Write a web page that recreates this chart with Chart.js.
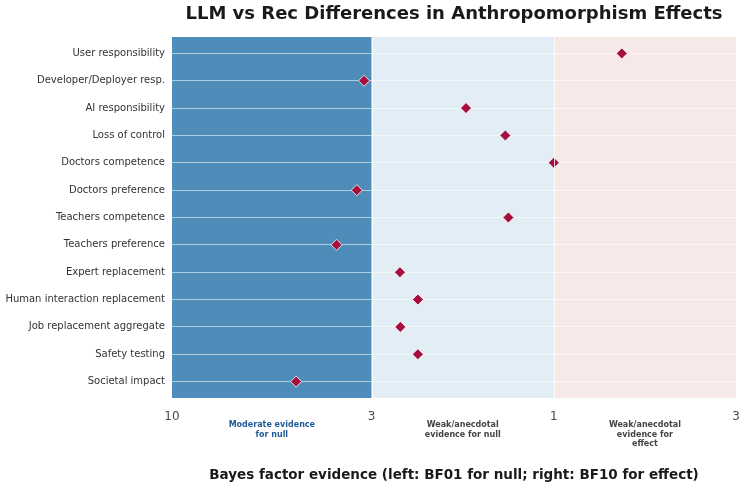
<!DOCTYPE html>
<html>
<head>
<meta charset="utf-8">
<script src="https://cdn.jsdelivr.net/npm/chart.js@4"></script>
<style>
  body { margin: 0; background: #fff; }
  #wrap { width: 747px; height: 489px; }
</style>
</head>
<body>
<div id="wrap"><canvas id="myChart"></canvas></div>
<script>
// categories top to bottom
var categories = ['User responsibility', 'Developer/Deployer resp.', 'AI responsibility', 'Loss of control',
  'Doctors competence', 'Doctors preference', 'Teachers competence', 'Teachers preference',
  'Expert replacement', 'Human interaction replacement', 'Job replacement aggregate',
  'Safety testing', 'Societal impact'];
// log10(BF10), negative = evidence for null
var logBF10 = [0.178, -0.497, -0.230, -0.127, 0.0, -0.516, -0.119, -0.569, -0.403, -0.356, -0.402, -0.356, -0.675];
// x ticks
var tickValues = [-1, Math.log10(1 / 3), 0, Math.log10(3)];
var tickLabels = ['10', '3', '1', '3'];
// evidence zones
var zoneEdges = [-1, Math.log10(1 / 3), 0, Math.log10(3)];
var zoneColors = ['#4e8db9', '#e3edf6', '#f6e9e8'];
var zoneNames = [['Moderate evidence', 'for null'], ['Weak/anecdotal', 'evidence for null'], ['Weak/anecdotal', 'evidence for', 'effect']];
var zoneTextColors = ['#1f5b97', '#444444', '#444444'];

var points = logBF10.map(function (v, i) { return { x: v, y: i }; });

var zonesPlugin = {
  id: 'zones',
  beforeDraw: function (chart) {
    var c = chart.ctx, a = chart.chartArea, xs = chart.scales.x;
    c.save();
    for (var i = 0; i < zoneColors.length; i++) {
      var x0 = xs.getPixelForValue(zoneEdges[i]);
      var x1 = xs.getPixelForValue(zoneEdges[i + 1]);
      c.fillStyle = zoneColors[i];
      c.fillRect(x0, a.top, x1 - x0, a.bottom - a.top);
    }
    c.restore();
  },
  afterDraw: function (chart) {
    var c = chart.ctx, a = chart.chartArea, xs = chart.scales.x;
    c.save();
    // white vertical lines at zone edges
    c.strokeStyle = 'rgba(255,255,255,0.8)';
    c.lineWidth = 1;
    [1, 2].forEach(function (k) {
      var x = Math.round(xs.getPixelForValue(zoneEdges[k])) + 0.5;
      c.beginPath(); c.moveTo(x, a.top); c.lineTo(x, a.bottom); c.stroke();
    });
    // zone labels
    c.font = 'bold 8px "DejaVu Sans"';
    c.textAlign = 'center';
    c.textBaseline = 'middle';
    for (var i = 0; i < zoneNames.length; i++) {
      var cx = (xs.getPixelForValue(zoneEdges[i]) + xs.getPixelForValue(zoneEdges[i + 1])) / 2;
      c.fillStyle = zoneTextColors[i];
      zoneNames[i].forEach(function (line, j) {
        c.fillText(line, cx, 425 + j * 9.5);
      });
    }
    // title + x axis title centred on plot area
    var mid = (a.left + a.right) / 2;
    c.fillStyle = '#1a1a1a';
    c.font = 'bold 18px "DejaVu Sans"';
    c.fillText('LLM vs Rec Differences in Anthropomorphism Effects', mid, 14);
    c.font = 'bold 13.5px "DejaVu Sans"';
    c.fillText('Bayes factor evidence (left: BF01 for null; right: BF10 for effect)', mid, 475);
    c.restore();
  }
};

var ctx = document.getElementById('myChart').getContext('2d');
var myChart = new Chart(ctx, {
  type: 'scatter',
  data: {
    datasets: [{
      data: points,
      pointStyle: 'rectRot',
      pointRadius: 5.5,
      pointHoverRadius: 5.5,
      backgroundColor: '#a50f3d',
      borderColor: '#ffffff',
      borderWidth: 0.8
    }]
  },
  options: {
    responsive: true,
    maintainAspectRatio: false,
    animation: false,
    layout: { padding: { top: 37, right: 11, bottom: 0, left: 0 } },
    plugins: {
      legend: { display: false },
      tooltip: { enabled: false }
    },
    scales: {
      x: {
        type: 'linear',
        min: -1,
        max: Math.log10(3),
        afterBuildTicks: function (scale) {
          scale.ticks = tickValues.map(function (v) { return { value: v }; });
        },
        afterFit: function (scale) { scale.height = 91; },
        ticks: {
          autoSkip: false,
          maxRotation: 0,
          padding: 4,
          color: '#4a4a4a',
          font: { family: 'DejaVu Sans', size: 12 },
          callback: function (v, i) { return tickLabels[i]; }
        },
        grid: { display: false },
        border: { display: false }
      },
      y: {
        type: 'linear',
        reverse: true,
        min: -0.6,
        max: 12.6,
        afterBuildTicks: function (scale) {
          scale.ticks = categories.map(function (c, i) { return { value: i }; });
        },
        afterFit: function (scale) { scale.width = 172; },
        ticks: {
          autoSkip: false,
          padding: 7,
          color: '#333333',
          font: { family: 'DejaVu Sans', size: 10 },
          callback: function (v) { return categories[v]; }
        },
        grid: { color: 'rgba(255,255,255,0.55)', lineWidth: 1, drawTicks: false },
        border: { display: false }
      }
    }
  },
  plugins: [zonesPlugin]
});
</script>
</body>
</html>
